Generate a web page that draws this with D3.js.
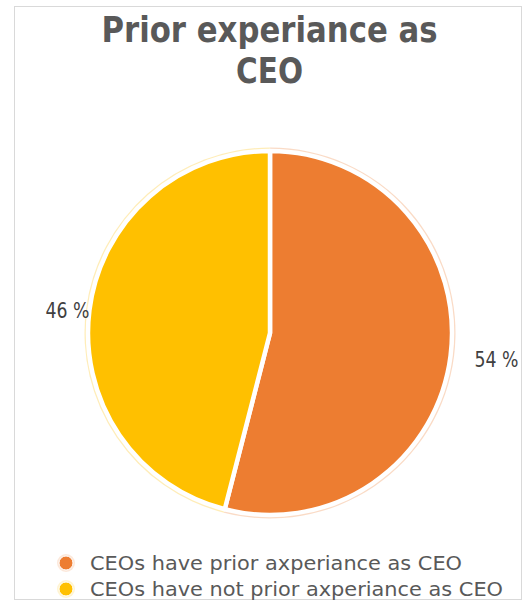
<!DOCTYPE html>
<html>
<head>
<meta charset="utf-8">
<script src="https://cdn.jsdelivr.net/npm/d3@7"></script>
<style>
  html, body { margin: 0; padding: 0; background: #fff; }
  svg { display: block; }
</style>
</head>
<body>
<svg id="chart" width="526" height="600"></svg>
<script>
// Share of CEOs by prior CEO experience
const categories = ["CEOs have prior axperiance as CEO", "CEOs have not prior axperiance as CEO"];
const shares = [54, 46];
const sliceLabels = ["54 %", "46 %"];
const colours = ["#ED7D31", "#FFC000"];
const titleLines = ["Prior experiance as", "CEO"];

const svg = d3.select("#chart");
const font = "'DejaVu Sans', Verdana, sans-serif";

// chart area frame
svg.append("rect")
  .attr("x", 14.5).attr("y", 6.5)
  .attr("width", 507).attr("height", 593)
  .attr("fill", "#fff").attr("stroke", "#d9d9d9").attr("stroke-width", 1);

// title
const title = svg.append("text")
  .attr("text-anchor", "middle")
  .attr("font-family", font)
  .attr("font-weight", "bold")
  .attr("font-size", 35.5)
  .attr("fill", "#595959");
const titleWidths = [336, 67];
titleLines.forEach((t, i) => {
  title.append("tspan")
    .attr("x", 269.5)
    .attr("y", 41.7 + i * 41.6)
    .attr("textLength", titleWidths[i])
    .attr("lengthAdjust", "spacingAndGlyphs")
    .text(t);
});

// pie
const cx = 270, cy = 333, r = 182;
const pie = d3.pie().sort(null).value(d => d)(shares);
const colour = d3.scaleOrdinal().domain(categories).range(colours);
const arc = d3.arc().innerRadius(0).outerRadius(r);
const halo = d3.arc().innerRadius(0).outerRadius(r + 3.5);

const g = svg.append("g").attr("transform", `translate(${cx},${cy})`);

g.selectAll("path.halo")
  .data(pie)
  .join("path")
  .attr("class", "halo")
  .attr("d", halo)
  .attr("fill", (d, i) => colour(categories[i]))
  .attr("fill-opacity", 0.28);

g.selectAll("path.slice")
  .data(pie)
  .join("path")
  .attr("class", "slice")
  .attr("d", arc)
  .attr("fill", (d, i) => colour(categories[i]))
  .attr("stroke", "#fff")
  .attr("stroke-width", 4.5)
  .attr("stroke-linejoin", "round");

// value labels outside each slice
g.selectAll("text.value")
  .data(pie)
  .join("text")
  .attr("class", "value")
  .each(function (d, i) {
    const a = (d.startAngle + d.endAngle) / 2;
    const right = Math.sin(a) > 0;
    const rr = right ? 206 : 182;
    d3.select(this)
      .attr("x", Math.sin(a) * rr)
      .attr("y", -Math.cos(a) * rr + 8)
      .attr("text-anchor", right ? "start" : "end");
  })
  .attr("font-family", font)
  .attr("font-size", 21)
  .attr("fill", "#404040")
  .attr("textLength", 44)
  .attr("lengthAdjust", "spacingAndGlyphs")
  .text((d, i) => sliceLabels[i]);

// legend
const legend = svg.append("g");
const legendWidths = [372, 413];
categories.forEach((c, i) => {
  const y = 563 + i * 26;
  legend.append("circle")
    .attr("cx", 66).attr("cy", y).attr("r", 9)
    .attr("fill", colour(c)).attr("fill-opacity", 0.18);
  legend.append("circle")
    .attr("cx", 66).attr("cy", y).attr("r", 7)
    .attr("fill", colour(c)).attr("stroke", "#fff").attr("stroke-width", 1);
  legend.append("text")
    .attr("x", 90).attr("y", y + 6.5)
    .attr("font-family", font)
    .attr("font-size", 19.5)
    .attr("fill", "#595959")
    .attr("textLength", legendWidths[i])
    .attr("lengthAdjust", "spacingAndGlyphs")
    .text(c);
});
</script>
</body>
</html>
